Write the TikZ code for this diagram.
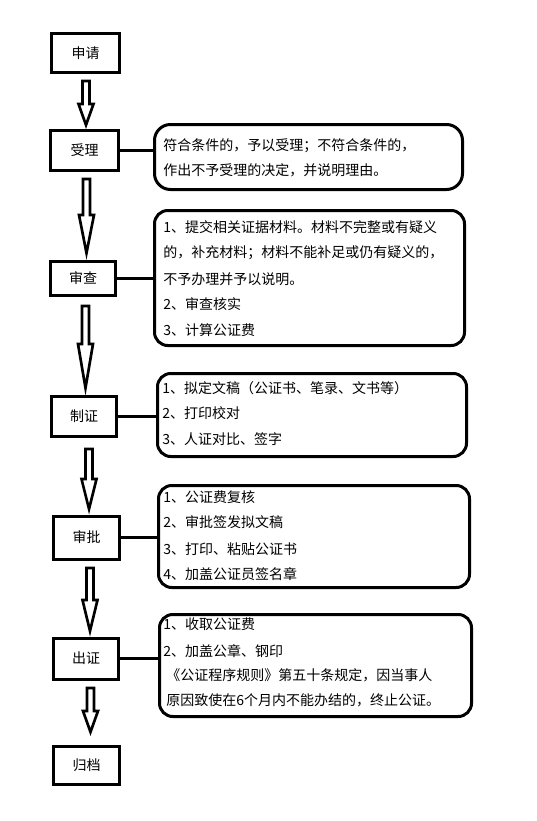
\documentclass[tikz,border=0pt]{standalone}
\usepackage{fontspec}
\newfontfamily\cjk{Noto Sans CJK SC}
\newcommand\blockarrow[4]{\draw[barrow] ({#1-3.5},#2) -- ({#1+3.5},#2) -- ({#1+3.5},#3) -- ({#1+7.5},#3) -- (#1,#4) -- ({#1-7.5},#3) -- ({#1-3.5},#3) -- cycle;}
\begin{document}
\begin{tikzpicture}[x=0.75pt,y=-0.75pt,
  box/.style 2 args={draw, line width=2.25pt, minimum width=#1*0.75pt, minimum height=#2*0.75pt, inner sep=0pt, font=\cjk\fontsize{10.5pt}{12pt}\selectfont},
  callout/.style 2 args={draw, line width=2.25pt, rounded corners=10pt, minimum width=#1*0.75pt, minimum height=#2*0.75pt, inner sep=0pt},
  txt/.style={anchor=base west, inner sep=0pt, font=\cjk\fontsize{10.5pt}{12pt}\selectfont},
  conn/.style={line width=2.25pt},
  barrow/.style={draw, line width=2pt, fill=white, line join=miter}]
\useasboundingbox (0,0) rectangle (536,821);

% main boxes
\node[box={68}{39}] (b1) at (85.5,53) {申请};
\node[box={68}{40}] (b2) at (84.5,150.5) {受理};
\node[box={65}{34}] (b3) at (83,278.5) {审查};
\node[box={65}{40}] (b4) at (84,416.5) {制证};
\node[box={66}{43}] (b5) at (86.5,537.5) {审批};
\node[box={65}{41}] (b6) at (86,658.5) {出证};
\node[box={66}{38}] (b7) at (86.5,765.5) {归档};

% callouts
\node[callout={308}{65}, rounded corners=12pt] (c1) at (308.5,157) {};
\node[callout={310}{135}] (c2) at (309.5,278) {};
\node[callout={309}{83}] (c3) at (312,415) {};
\node[callout={311}{102}] (c4) at (314,536.5) {};
\node[callout={312}{102}] (c5) at (315.5,665.5) {};

% connectors
\draw[conn] (b2.east) -- (b2.east -| c1.west);
\draw[conn] (b3.east) -- (b3.east -| c2.west);
\draw[conn] (b4.east) -- (b4.east -| c3.west);
\draw[conn] (b5.east) -- (b5.east -| c4.west);
\draw[conn] (b6.east) -- (b6.east -| c5.west);

% block arrows
\blockarrow{86}{81}{104}{125}
\blockarrow{86.5}{179}{215}{253}
\blockarrow{85.5}{306}{344}{388}
\blockarrow{89}{449}{479}{509}
\blockarrow{90}{568}{600}{631}
\blockarrow{90.5}{688}{711}{732}

% callout texts
\node[txt] (t11) at (163,150) {符合条件的，予以受理；不符合条件的，};
\node[txt] (t12) at (163,175) {作出不予受理的决定，并说明理由。};

\node[txt] (t21) at (163,232) {1、提交相关证据材料。材料不完整或有疑义};
\node[txt] (t22) at (163,257) {的，补充材料；材料不能补足或仍有疑义的，};
\node[txt] (t23) at (163,284) {不予办理并予以说明。};
\node[txt] (t24) at (163,309) {2、审查核实};
\node[txt] (t25) at (163,335) {3、计算公证费};

\node[txt] (t31) at (162,393) {1、拟定文稿（公证书、笔录、文书等）};
\node[txt] (t32) at (162,418) {2、打印校对};
\node[txt] (t33) at (162,444) {3、人证对比、签字};

\node[txt] (t41) at (163,502) {1、公证费复核};
\node[txt] (t42) at (163,527) {2、审批签发拟文稿};
\node[txt] (t43) at (163,554) {3、打印、粘贴公证书};
\node[txt] (t44) at (163,579) {4、加盖公证员签名章};

\node[txt] (t51) at (163,629) {1、收取公证费};
\node[txt] (t52) at (163,656) {2、加盖公章、钢印};
\node[txt] (t53) at (166,680) {《公证程序规则》第五十条规定，因当事人};
\node[txt] (t54) at (166,705) {原因致使在6个月内不能办结的，终止公证。};
\end{tikzpicture}
\end{document}
